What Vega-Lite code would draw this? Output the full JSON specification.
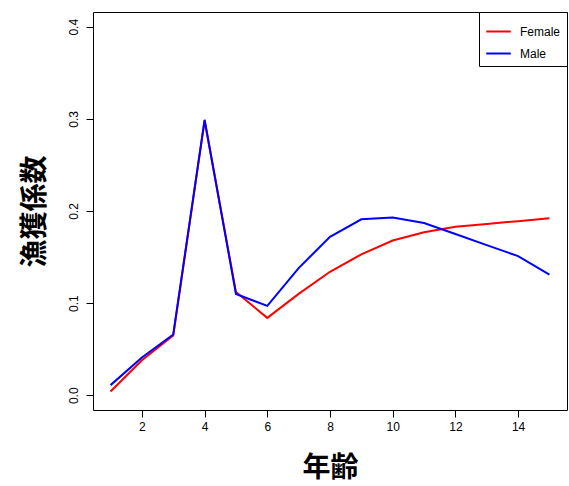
{
  "$schema": "https://vega.github.io/schema/vega-lite/v6.json",
  "width": 474,
  "height": 398,
  "autosize": {"type": "none"},
  "padding": {"left": 93, "top": 12, "right": 2, "bottom": 76},
  "background": "white",
  "config": {
    "view": {"stroke": "black", "strokeWidth": 1},
    "font": "Liberation Sans"
  },
  "data": {
    "values": [
      {"age": 1, "sex": "Female", "f": 0.004}, {"age": 2, "sex": "Female", "f": 0.038},
      {"age": 3, "sex": "Female", "f": 0.065}, {"age": 4, "sex": "Female", "f": 0.298},
      {"age": 5, "sex": "Female", "f": 0.112}, {"age": 6, "sex": "Female", "f": 0.084},
      {"age": 7, "sex": "Female", "f": 0.110}, {"age": 8, "sex": "Female", "f": 0.134},
      {"age": 9, "sex": "Female", "f": 0.153}, {"age": 10, "sex": "Female", "f": 0.168},
      {"age": 11, "sex": "Female", "f": 0.177}, {"age": 12, "sex": "Female", "f": 0.183},
      {"age": 13, "sex": "Female", "f": 0.186}, {"age": 14, "sex": "Female", "f": 0.189},
      {"age": 15, "sex": "Female", "f": 0.192},
      {"age": 1, "sex": "Male", "f": 0.011}, {"age": 2, "sex": "Male", "f": 0.041},
      {"age": 3, "sex": "Male", "f": 0.066}, {"age": 4, "sex": "Male", "f": 0.299},
      {"age": 5, "sex": "Male", "f": 0.110}, {"age": 6, "sex": "Male", "f": 0.097},
      {"age": 7, "sex": "Male", "f": 0.138}, {"age": 8, "sex": "Male", "f": 0.172},
      {"age": 9, "sex": "Male", "f": 0.191}, {"age": 10, "sex": "Male", "f": 0.193},
      {"age": 11, "sex": "Male", "f": 0.187}, {"age": 12, "sex": "Male", "f": 0.175},
      {"age": 13, "sex": "Male", "f": 0.163}, {"age": 14, "sex": "Male", "f": 0.151},
      {"age": 15, "sex": "Male", "f": 0.131}
    ]
  },
  "mark": {"type": "line", "strokeWidth": 2},
  "encoding": {
    "x": {
      "field": "age", "type": "quantitative",
      "scale": {"domain": [0.44, 15.56], "nice": false, "zero": false},
      "axis": {
        "title": "年齢", "titleFont": "Noto Sans CJK JP", "titleFontSize": 28, "titleFontWeight": "bold",
        "titleColor": "black", "titlePadding": 22,
        "values": [2, 4, 6, 8, 10, 12, 14], "grid": false, "domain": false,
        "tickColor": "black", "tickSize": 7, "labelFontSize": 12, "labelColor": "black", "labelPadding": 4
      }
    },
    "y": {
      "field": "f", "type": "quantitative",
      "scale": {"domain": [-0.016, 0.416], "nice": false, "zero": false},
      "axis": {
        "title": "漁獲係数", "titleFont": "Noto Sans CJK JP", "titleFontSize": 28, "titleFontWeight": "bold",
        "titleColor": "black", "titlePadding": 18,
        "values": [0, 0.1, 0.2, 0.3, 0.4], "format": ".1f", "grid": false, "domain": false,
        "tickColor": "black", "tickSize": 7, "labelFontSize": 12, "labelColor": "black",
        "labelAngle": -90, "labelAlign": "center", "labelBaseline": "bottom", "labelPadding": 6
      }
    },
    "color": {
      "field": "sex", "type": "nominal",
      "scale": {"domain": ["Female", "Male"], "range": ["red", "blue"]},
      "legend": {
        "title": null, "orient": "top-right", "offset": 0, "strokeColor": "black",
        "fillColor": "white", "padding": 6, "symbolType": "stroke", "symbolStrokeWidth": 2,
        "symbolSize": 600, "labelFontSize": 12, "labelColor": "black", "rowPadding": 2,
        "labelOffset": 8, "labelLimit": 200
      }
    }
  }
}
